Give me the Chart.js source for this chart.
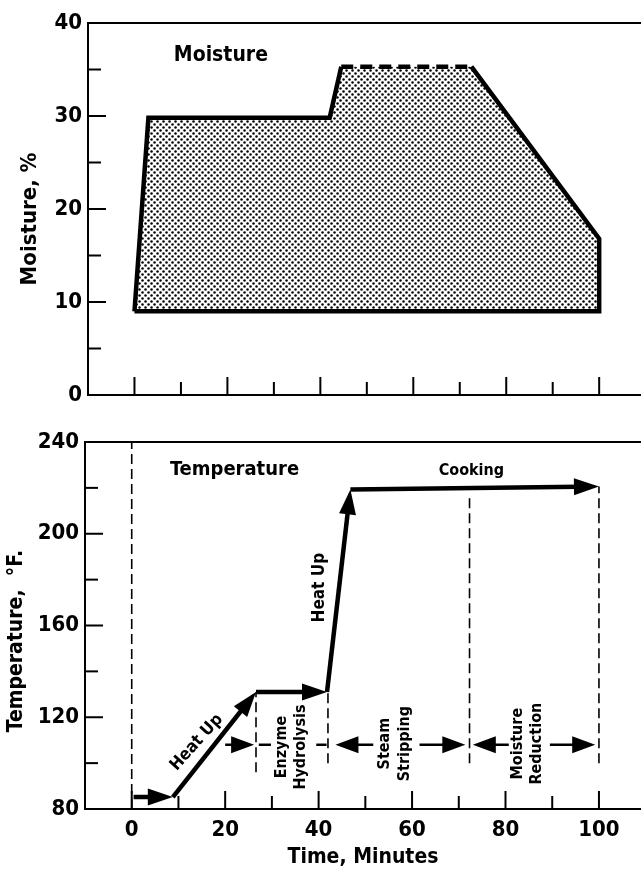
<!DOCTYPE html>
<html>
<head>
<meta charset="utf-8">
<script src="https://cdn.jsdelivr.net/npm/chart.js@4.4.0/dist/chart.umd.min.js"></script>
<style>
  html, body { margin: 0; padding: 0; background: #fff; overflow: hidden; }
  #wrap { position: relative; width: 641px; height: 869px; }
  canvas { position: absolute; left: 0; }
  #moistureChart { top: 0; }
  #tempChart { top: 420px; }
</style>
</head>
<body>
<div id="wrap">
  <canvas id="moistureChart" width="641" height="420"></canvas>
  <canvas id="tempChart" width="641" height="449"></canvas>
</div>
<script>
document.addEventListener('DOMContentLoaded', function() {
    'use strict';

    const FONT = "'DejaVu Sans Condensed', 'DejaVu Sans', sans-serif";

    // Time axis (minutes)
    const timeTicks = [0, 10, 20, 30, 40, 50, 60, 70, 80, 90, 100];
    const timeLabels = [0, 20, 40, 60, 80, 100];

    // Moisture axis (%)
    const moistureTicks = [0, 5, 10, 15, 20, 25, 30, 35, 40];
    const moistureLabels = [0, 10, 20, 30, 40];

    // Temperature axis (deg F)
    const tempTicks = [80, 100, 120, 140, 160, 180, 200, 220, 240];
    const tempLabels = [80, 120, 160, 200, 240];

    // Moisture envelope, outline traced round the shaded area
    const moistureTime = [0, 3, 42, 44.5, 72.5, 100, 100, 0];
    const moistureValue = [9, 29.8, 29.8, 35.3, 35.3, 16.8, 9, 9];

    // Temperature path, every step is an arrow
    const pathTime = [0.4, 8.8, 26.6, 41.8, 46.8, 100];
    const pathTemp = [85.2, 85.2, 131, 131, 219.3, 220.6];

    // Dashed phase boundaries
    const guideTime = [0, 26.6, 42, 72.3, 100];
    const guideTop = [240, 131, 131, 216, 220.6];
    const guideBottom = [80, 96, 100, 100, 100];

    // Phase span arrows
    const phaseTemp = 108;
    const phaseFrom = [20, 51.7, 61.6, 80.7, 89.5];
    const phaseTo = [26.2, 43.6, 71.4, 73.0, 99.2];
    const stubFrom = [27.2, 39.5];
    const stubTo = [29.8, 41.7];

    const moistureNotes = [
        { text: 'Moisture', x: 18.6, y: 36.5, size: 21 }
    ];
    const tempNotes = [
        { text: 'Temperature', x: 22, y: 228, size: 20 },
        { text: 'Cooking', x: 72.7, y: 227.5, size: 16 },
        { text: 'Heat Up', x: 13.9, y: 109, size: 17, rotate: -48 },
        { text: 'Heat Up', x: 40.2, y: 176.5, size: 17, rotate: -90 },
        { text: 'Enzyme\nHydrolysis', x: 34.2, y: 107, size: 16, rotate: -90 },
        { text: 'Steam\nStripping', x: 56.3, y: 108.5, size: 16, rotate: -90 },
        { text: 'Moisture\nReduction', x: 84.7, y: 108.5, size: 16, rotate: -90 }
    ];

    /**
     * Stipple fill like the printed dot screen
     */
    function makeStipple() {
        const c = document.createElement('canvas');
        c.width = 6;
        c.height = 6;
        const g = c.getContext('2d');
        g.fillStyle = '#fff';
        g.fillRect(0, 0, 6, 6);
        g.fillStyle = '#000';
        [[1.5, 1.5], [4.5, 4.5]].forEach(function(p) {
            g.beginPath();
            g.arc(p[0], p[1], 1.25, 0, Math.PI * 2);
            g.fill();
        });
        return g.createPattern(c, 'repeat');
    }

    // frame lines, inward ticks and rotated y title
    const framePlugin = {
        id: 'frame',
        afterDraw(chart, args, opts) {
            const ctx = chart.ctx;
            const a = chart.chartArea;
            const sx = chart.scales.x;
            const sy = chart.scales.y;
            ctx.save();
            ctx.strokeStyle = '#000';
            ctx.lineWidth = 2;
            ctx.beginPath();
            ctx.moveTo(a.right, a.top);
            ctx.lineTo(a.left, a.top);
            ctx.lineTo(a.left, a.bottom);
            ctx.lineTo(a.right, a.bottom);
            ctx.stroke();

            opts.yTicks.forEach(function(v) {
                const y = sy.getPixelForValue(v);
                const len = opts.yMajor.includes(v) ? 18 : 13;
                ctx.beginPath();
                ctx.moveTo(a.left, y);
                ctx.lineTo(a.left + len, y);
                ctx.stroke();
            });
            opts.xTicks.forEach(function(v) {
                const x = sx.getPixelForValue(v);
                const len = opts.xMajor.includes(v) ? 18 : 13;
                ctx.beginPath();
                ctx.moveTo(x, a.bottom);
                ctx.lineTo(x, a.bottom - len);
                ctx.stroke();
            });

            ctx.translate(opts.titleX, opts.titleY);
            ctx.rotate(-Math.PI / 2);
            ctx.font = 'bold ' + opts.titleSize + 'px ' + FONT;
            ctx.fillStyle = '#000';
            ctx.textAlign = 'center';
            ctx.textBaseline = 'middle';
            ctx.fillText(opts.title, 0, 0);
            ctx.restore();
        }
    };

    // text notes placed in data coordinates
    const notesPlugin = {
        id: 'notes',
        afterDatasetsDraw(chart, args, opts) {
            const ctx = chart.ctx;
            const sx = chart.scales.x;
            const sy = chart.scales.y;
            (opts.items || []).forEach(function(n) {
                const lines = n.text.split('\n');
                const lh = n.size * 1.22;
                ctx.save();
                ctx.translate(sx.getPixelForValue(n.x), sy.getPixelForValue(n.y));
                ctx.rotate((n.rotate || 0) * Math.PI / 180);
                ctx.font = 'bold ' + n.size + 'px ' + FONT;
                ctx.fillStyle = '#000';
                ctx.textAlign = 'center';
                ctx.textBaseline = 'middle';
                lines.forEach(function(s, k) {
                    ctx.fillText(s, 0, (k - (lines.length - 1) / 2) * lh);
                });
                ctx.restore();
            });
        }
    };

    // arrowheads on datasets flagged with `arrow`
    function tipOf(chart, i) {
        const pts = chart.getDatasetMeta(i).data;
        const a = pts[pts.length - 2];
        const b = pts[pts.length - 1];
        return { x: b.x, y: b.y, ang: Math.atan2(b.y - a.y, b.x - a.x) };
    }
    const arrowPlugin = {
        id: 'arrows',
        beforeDatasetDraw(chart, args) {
            const ds = chart.data.datasets[args.index];
            if (!ds.arrow) return;
            const t = tipOf(chart, args.index);
            const ctx = chart.ctx;
            const w = ds.borderWidth / 2 + 1;
            const l = ds.arrow.len * 0.5;
            const c = Math.cos(t.ang), s = Math.sin(t.ang);
            const corner = function(d, o) {
                return [t.x - d * c - o * s, t.y - d * s + o * c];
            };
            // keep the square line end from poking out of the arrow tip
            ctx.save();
            ctx.beginPath();
            ctx.rect(0, 0, chart.width, chart.height);
            const p = [corner(-2, -w), corner(l, -w), corner(l, w), corner(-2, w)];
            ctx.moveTo(p[0][0], p[0][1]);
            for (let k = 1; k < 4; k++) ctx.lineTo(p[k][0], p[k][1]);
            ctx.closePath();
            ctx.clip('evenodd');
        },
        afterDatasetDraw(chart, args) {
            const ds = chart.data.datasets[args.index];
            if (!ds.arrow) return;
            const ctx = chart.ctx;
            ctx.restore();
            const t = tipOf(chart, args.index);
            ctx.save();
            ctx.translate(t.x, t.y);
            ctx.rotate(t.ang);
            ctx.fillStyle = '#000';
            ctx.beginPath();
            ctx.moveTo(0, 0);
            ctx.lineTo(-ds.arrow.len, -ds.arrow.half);
            ctx.lineTo(-ds.arrow.len, ds.arrow.half);
            ctx.closePath();
            ctx.fill();
            ctx.restore();
        }
    };

    function xy(xs, ys) {
        return xs.map(function(x, i) { return { x: x, y: ys[i] }; });
    }

    function timeScale(showLabels) {
        return {
            type: 'linear',
            min: -10,
            max: 109,
            afterFit: function(s) { s.height = showLabels ? 60 : 25; },
            afterBuildTicks: function(s) {
                s.ticks = timeLabels.map(function(v) { return { value: v }; });
            },
            grid: { display: false, drawTicks: false },
            border: { display: false },
            ticks: {
                display: showLabels,
                color: '#000',
                padding: 8,
                autoSkip: false,
                maxRotation: 0,
                font: { family: FONT, size: 22, weight: 'bold' }
            },
            title: {
                display: showLabels,
                text: 'Time, Minutes',
                color: '#000',
                padding: { top: 0, bottom: 0 },
                font: { family: FONT, size: 21, weight: 'bold', lineHeight: 1.05 }
            }
        };
    }

    function valueScale(min, max, labels, width) {
        return {
            type: 'linear',
            min: min,
            max: max,
            afterFit: function(s) { s.width = width; },
            afterBuildTicks: function(s) {
                s.ticks = labels.map(function(v) { return { value: v }; });
            },
            grid: { display: false, drawTicks: false },
            border: { display: false },
            ticks: {
                color: '#000',
                padding: 6,
                font: { family: FONT, size: 22, weight: 'bold' }
            }
        };
    }

    const baseOptions = {
        responsive: false,
        animation: false,
        events: [],
        plugins: { legend: { display: false }, tooltip: { enabled: false } }
    };

    // Moisture chart: outline (drawn last, on top) and the stippled body
    new Chart(document.getElementById('moistureChart'), {
        type: 'scatter',
        data: {
            datasets: [{
                data: xy(moistureTime, moistureValue),
                showLine: true,
                fill: false,
                borderColor: '#000',
                borderWidth: 4.5,
                borderJoinStyle: 'miter',
                pointRadius: 0,
                segment: {
                    borderDash: function(c) { return c.p0DataIndex === 3 ? [12, 7] : undefined; }
                }
            }, {
                data: xy(moistureTime, moistureValue),
                showLine: true,
                fill: 'shape',
                backgroundColor: makeStipple(),
                borderWidth: 0,
                pointRadius: 0
            }]
        },
        options: Object.assign({}, baseOptions, {
            layout: { padding: { top: 23, left: 0, right: 0, bottom: 0 } },
            scales: {
                x: timeScale(false),
                y: valueScale(0, 40, moistureLabels, 88)
            },
            plugins: Object.assign({}, baseOptions.plugins, {
                frame: {
                    yTicks: moistureTicks, yMajor: moistureLabels,
                    xTicks: timeTicks, xMajor: timeLabels,
                    title: 'Moisture, %', titleSize: 22, titleX: 30, titleY: 219
                },
                notes: { items: moistureNotes }
            })
        }),
        plugins: [framePlugin, notesPlugin]
    });

    // Temperature chart (first datasets are drawn on top)
    const tempDatasets = [];
    for (let i = 0; i < pathTime.length - 1; i++) {
        tempDatasets.push({
            data: [{ x: pathTime[i], y: pathTemp[i] }, { x: pathTime[i + 1], y: pathTemp[i + 1] }],
            showLine: true,
            borderColor: '#000',
            borderWidth: 4.5,
            pointRadius: 0,
            arrow: { len: 25, half: 8.5 }
        });
    }
    phaseFrom.forEach(function(t, i) {
        tempDatasets.push({
            data: [{ x: t, y: phaseTemp }, { x: phaseTo[i], y: phaseTemp }],
            showLine: true,
            borderColor: '#000',
            borderWidth: 2.5,
            pointRadius: 0,
            arrow: { len: 23, half: 8.5 }
        });
    });
    stubFrom.forEach(function(t, i) {
        tempDatasets.push({
            data: [{ x: t, y: phaseTemp }, { x: stubTo[i], y: phaseTemp }],
            showLine: true,
            borderColor: '#000',
            borderWidth: 2.5,
            pointRadius: 0
        });
    });
    guideTime.forEach(function(t, i) {
        tempDatasets.push({
            data: [{ x: t, y: guideBottom[i] }, { x: t, y: guideTop[i] }],
            showLine: true,
            borderColor: '#000',
            borderWidth: 1.6,
            borderDash: [10, 5],
            pointRadius: 0
        });
    });

    new Chart(document.getElementById('tempChart'), {
        type: 'scatter',
        data: { datasets: tempDatasets },
        options: Object.assign({}, baseOptions, {
            layout: { padding: { top: 22, left: 0, right: 0, bottom: 0 } },
            scales: {
                x: timeScale(true),
                y: valueScale(80, 240, tempLabels, 85)
            },
            plugins: Object.assign({}, baseOptions.plugins, {
                frame: {
                    yTicks: tempTicks, yMajor: tempLabels,
                    xTicks: timeTicks, xMajor: timeLabels,
                    title: 'Temperature,  \u00B0F.', titleSize: 21, titleX: 17, titleY: 221
                },
                notes: { items: tempNotes }
            })
        }),
        plugins: [framePlugin, notesPlugin, arrowPlugin]
    });
});
</script>
</body>
</html>
